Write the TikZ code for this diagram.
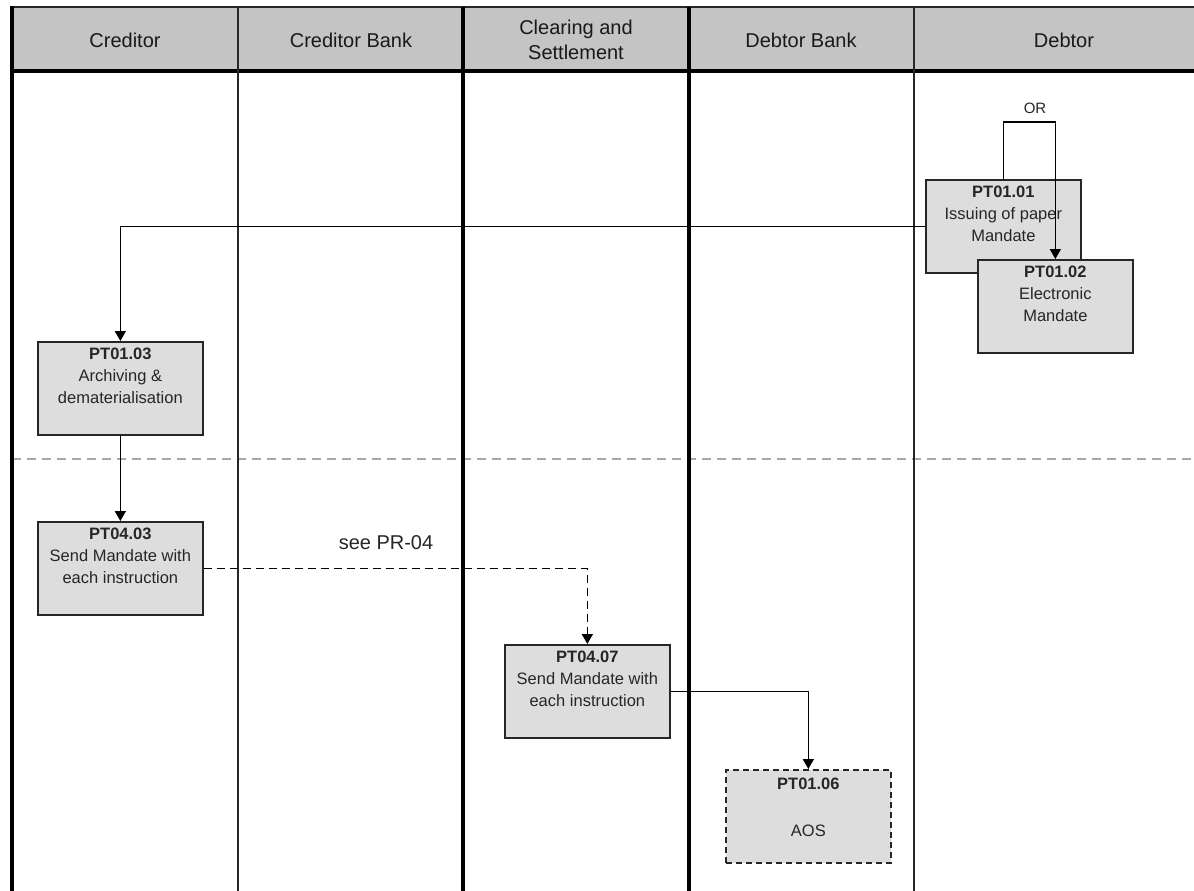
\documentclass[tikz,border=0pt]{standalone}
\usepackage{fontspec}
\setmainfont{Liberation Sans}
\usetikzlibrary{arrows.meta}
\definecolor{headgray}{HTML}{C4C4C4}
\definecolor{boxgray}{HTML}{DDDDDD}
\definecolor{txtgray}{HTML}{262626}
\definecolor{sepgray}{HTML}{A8A8A8}
\tikzset{
  lanehead/.style={font=\fontsize{20}{25}\selectfont, text=black!90, align=center, inner sep=0pt},
  box/.style={draw=black!85, line width=1.7pt, fill=boxgray, anchor=north west, minimum width=165pt, minimum height=93pt, inner sep=0pt},
  narrowbox/.style={box, minimum width=155pt},
  dashbox/.style={box, dash pattern=on 6pt off 4pt},
  btxt/.style={font=\fontsize{16.5}{22}\selectfont, text=txtgray, align=center, inner sep=0pt, anchor=north},
  conn/.style={line width=1.6pt, -{Triangle[width=11pt,length=10pt]}},
  dconn/.style={conn, dash pattern=on 8pt off 5pt},
  thinlane/.style={line width=1.8pt, black!85},
  thicklane/.style={line width=3.2pt, black},
  plainlbl/.style={font=\fontsize{20}{24}\selectfont, text=txtgray, inner sep=0pt},
}
\begin{document}
\begin{tikzpicture}[x=1pt,y=-1pt]
\useasboundingbox (0,0) rectangle (1194,891);
\fill[white] (0,0) rectangle (1194,891);
% header
\fill[headgray] (12,7) rectangle (1194,71);
\draw[line width=2.2pt, black!85] (12,7) -- (1194,7);
\draw[line width=4.5pt, black] (12,71) -- (1194,71);
% phase separator
\draw[sepgray, line width=2pt, dash pattern=on 9pt off 6pt] (12,459) -- (1194,459);
% lanes
\draw[thicklane] (12,6) -- (12,891);
\draw[thinlane] (238,7) -- (238,891);
\draw[thicklane] (463,7) -- (463,891);
\draw[thicklane] (689,7) -- (689,891);
\draw[thinlane] (914,7) -- (914,891);
% header labels
\node[lanehead] (h1) at (125,40) {Creditor};
\node[lanehead] (h2) at (351,40) {Creditor Bank};
\node[lanehead] (h3) at (576,40) {Clearing and\\Settlement};
\node[lanehead] (h4) at (801,40) {Debtor Bank};
\node[lanehead] (h5) at (1064,40) {Debtor};
% boxes
\node[narrowbox] (b1) at (925,179) {};
\node[btxt] (b1t) at ([yshift=-7pt]b1.north) {\textbf{PT01.01}\\Issuing of paper\\Mandate};
\node[narrowbox] (b2) at (977,259) {};
\node[btxt] (b2t) at ([yshift=-7pt]b2.north) {\textbf{PT01.02}\\Electronic\\Mandate};
\node[box] (b3) at (37,341) {};
\node[btxt] (b3t) at ([yshift=-7pt]b3.north) {\textbf{PT01.03}\\Archiving \&\\dematerialisation};
\node[box] (b4) at (37,521) {};
\node[btxt] (b4t) at ([yshift=-7pt]b4.north) {\textbf{PT04.03}\\Send Mandate with\\each instruction};
\node[box] (b7) at (504,644) {};
\node[btxt] (b7t) at ([yshift=-7pt]b7.north) {\textbf{PT04.07}\\Send Mandate with\\each instruction};
\node[dashbox] (b6) at (725,769) {};
\node[btxt] (b6t) at ([yshift=-9pt]b6.north) {\textbf{PT01.06}\\[25pt]AOS};
% labels
\node[font=\fontsize{15}{18}\selectfont, text=txtgray, inner sep=0pt] (orl) at (1035,108) {OR};
\node[plainlbl] (see) at (386,543) {see PR-04};
% connectors
\draw[conn] (b1.north) -- ++(0,-57) -| (b2.north);
\draw[conn] (b1.west) -| (b3.north);
\draw[conn] (b3.south) -- (b4.north);
\draw[dconn] (b4.east) -| (b7.north);
\draw[conn] (b7.east) -| (b6.north);
\end{tikzpicture}
\end{document}
